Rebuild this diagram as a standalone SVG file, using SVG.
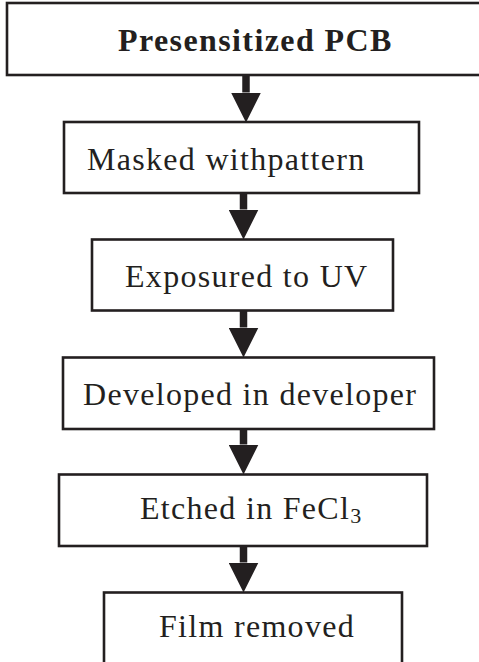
<svg xmlns="http://www.w3.org/2000/svg" width="479" height="662" viewBox="0 0 479 662">
  <style>
    .box { fill: #ffffff; stroke: #231f20; stroke-width: 2.6; }
    .lbl { font-family: "Liberation Serif", "Times New Roman", serif; font-size: 32px; letter-spacing: 1.3px; fill: #231f20; }
    .title { font-weight: bold; letter-spacing: 1.4px; }
    .flow { stroke: #231f20; stroke-width: 7.5; fill: none; marker-end: url(#head); }
  </style>
  <defs>
    <marker id="head" markerUnits="userSpaceOnUse" viewBox="0 -15 30 30" markerWidth="30" markerHeight="30" refX="0" refY="0" orient="auto">
      <path d="M0,-15 L30,0 L0,15 Z" fill="#231f20"/>
    </marker>
  </defs>
  <rect width="479" height="662" fill="#ffffff"/>

  <!-- process steps -->
  <g id="n1">
    <rect class="box" x="7" y="3" width="490" height="72"/>
    <text class="lbl title" x="118" y="51">Presensitized PCB</text>
  </g>
  <g id="n2">
    <rect class="box" x="64" y="122" width="355" height="71"/>
    <text class="lbl" x="87" y="170">Masked withpattern</text>
  </g>
  <g id="n3">
    <rect class="box" x="92" y="239.5" width="301" height="71"/>
    <text class="lbl" x="125" y="287">Exposured to UV</text>
  </g>
  <g id="n4">
    <rect class="box" x="63" y="357.5" width="371" height="71.5"/>
    <text class="lbl" x="83" y="405">Developed in developer</text>
  </g>
  <g id="n5">
    <rect class="box" x="59" y="474.5" width="368" height="71.5"/>
    <text class="lbl" x="140" y="519">Etched in FeCl<tspan font-size="22" dy="4">3</tspan></text>
  </g>
  <g id="n6">
    <rect class="box" x="104" y="592.5" width="298" height="90"/>
    <text class="lbl" x="159" y="637">Film removed</text>
  </g>

  <!-- connectors -->
  <g id="connectors">
    <line class="flow" x1="246" y1="75" x2="246" y2="92.5"/>
    <line class="flow" x1="243.5" y1="193" x2="243.5" y2="209.5"/>
    <line class="flow" x1="243.5" y1="311" x2="243.5" y2="327.5"/>
    <line class="flow" x1="243.5" y1="429" x2="243.5" y2="444.5"/>
    <line class="flow" x1="243.5" y1="546" x2="243.5" y2="562.5"/>
  </g>
</svg>
